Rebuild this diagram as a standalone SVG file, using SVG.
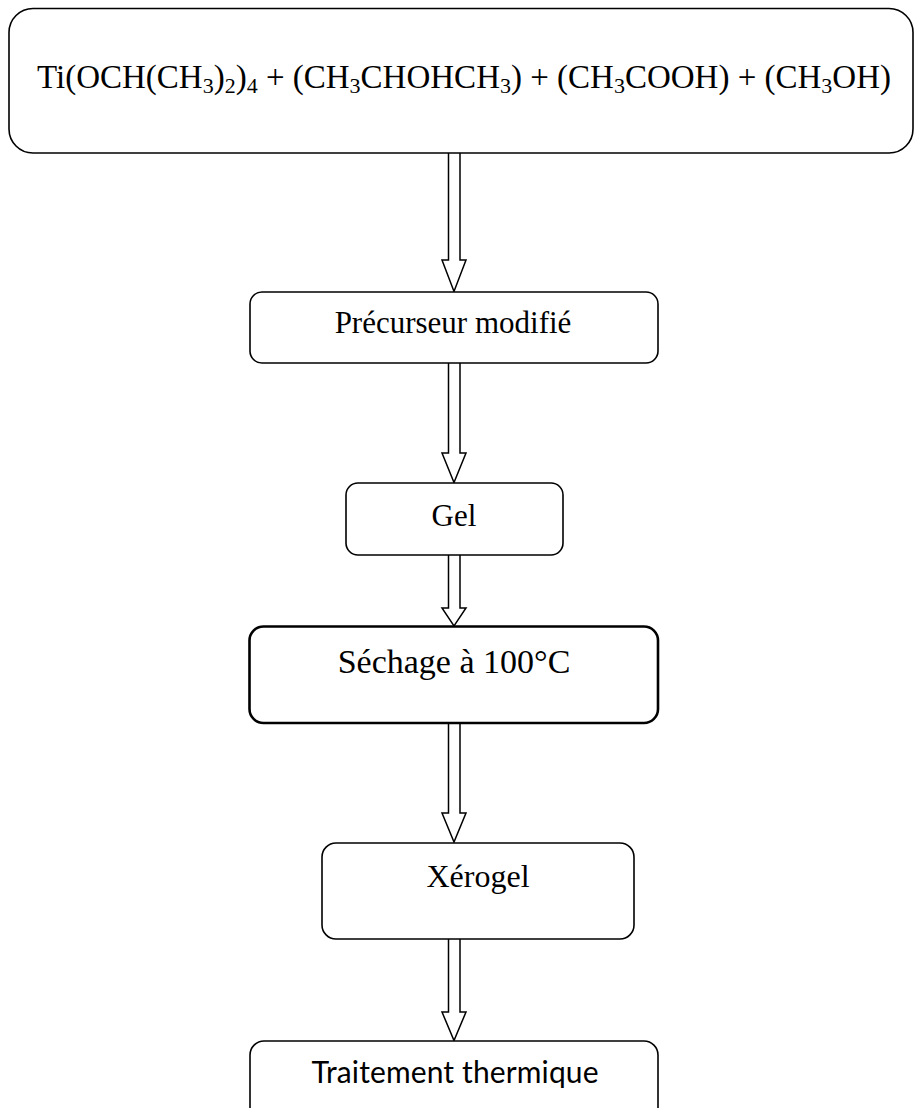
<svg xmlns="http://www.w3.org/2000/svg" width="914" height="1108" viewBox="0 0 914 1108">
<style>
.box{fill:#fff;stroke:#000;stroke-width:1.6}
.thick{stroke-width:2.6}
.arr{fill:#fff;stroke:#000;stroke-width:1.5;stroke-linejoin:miter}
.t{font-family:"Liberation Serif","Times New Roman",serif;fill:#000;text-anchor:middle}
.s{font-family:"Lato","Open Sans","Liberation Sans",sans-serif;fill:#000;text-anchor:middle}
</style>
<rect width="914" height="1108" fill="#fff"/>
<g id="connectors">
<path class="arr" d="M448.5,152 V260 H442 L454,291.5 L466,260 H460 V152"/>
<path class="arr" d="M448.5,363 V453 H442 L454,482.5 L466,453 H460 V363"/>
<path class="arr" d="M448.5,555 V608 H442 L454,626 L466,608 H460 V555"/>
<path class="arr" d="M448.5,723 V813 H442 L454,842 L466,813 H460 V723"/>
<path class="arr" d="M448.5,939 V1012 H442 L454,1040.5 L466,1012 H460 V939"/>
</g>
<g id="n1">
<rect class="box" x="9" y="8.5" width="904" height="144.5" rx="24" ry="24"/>
<text class="t" x="464" y="87.7" font-size="33">Ti(OCH(CH<tspan font-size="22" dy="5">3</tspan><tspan dy="-5">)</tspan><tspan font-size="22" dy="5">2</tspan><tspan dy="-5">)</tspan><tspan font-size="22" dy="5">4</tspan><tspan dy="-5"> + (CH</tspan><tspan font-size="22" dy="5">3</tspan><tspan dy="-5">CHOHCH</tspan><tspan font-size="22" dy="5">3</tspan><tspan dy="-5">) + (CH</tspan><tspan font-size="22" dy="5">3</tspan><tspan dy="-5">COOH) + (CH</tspan><tspan font-size="22" dy="5">3</tspan><tspan dy="-5">OH)</tspan></text>
</g>
<g id="n2">
<rect class="box" x="250" y="292" width="408" height="71" rx="12" ry="12"/>
<text class="t" x="453" y="333" font-size="31">Précurseur modifié</text>
</g>
<g id="n3">
<rect class="box" x="346" y="483" width="217" height="72" rx="12" ry="12"/>
<text class="t" x="454" y="526" font-size="31">Gel</text>
</g>
<g id="n4">
<rect class="box thick" x="249.5" y="626.5" width="408.5" height="96.5" rx="14" ry="14"/>
<text class="t" x="454" y="672.5" font-size="34">Séchage à 100°C</text>
</g>
<g id="n5">
<rect class="box" x="322" y="843" width="312" height="96" rx="14" ry="14"/>
<text class="t" x="478" y="887" font-size="32">Xérogel</text>
</g>
<g id="n6">
<rect class="box" x="250" y="1041" width="408" height="90" rx="14" ry="14"/>
<text class="s" x="455" y="1083" font-size="30" textLength="287">Traitement thermique</text>
</g>
</svg>
